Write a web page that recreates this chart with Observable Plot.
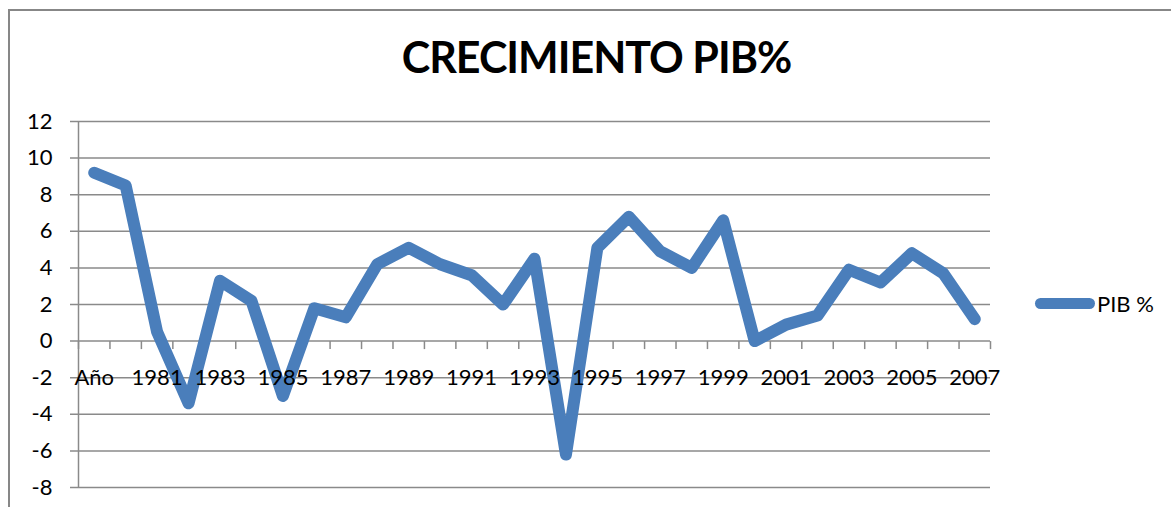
<!DOCTYPE html>
<html>
<head>
<meta charset="utf-8">
<script src="https://cdn.jsdelivr.net/npm/d3@7"></script>
<script src="https://cdn.jsdelivr.net/npm/@observablehq/plot@0.6"></script>
<style>
  body { margin: 0; background: #fff; font-family: Lato, sans-serif; }
  #wrap { position: relative; width: 1171px; height: 507px; overflow: hidden; background: #fff; }
  #border { position: absolute; left: 8px; top: 9px; width: 1300px; height: 700px;
            border-left: 2px solid #878787; border-top: 2px solid #878787; }
  #chart { position: absolute; left: 0; top: 0; }
  #title { position: absolute; left: 0; width: 1193px; top: 35px; text-align: center;
           font-family: Lato, sans-serif; font-weight: bold; font-size: 43px; line-height: 43px;
           letter-spacing: -1px; color: #000; }
  #legend { position: absolute; left: 1035px; top: 291px; display: flex; align-items: center; height: 24px; }
  #legend .sw { width: 60px; height: 11px; border-radius: 6px; background: #4a7ebb; }
  #legend .lb { font-size: 22px; color: #000; margin-left: 2px; }
</style>
</head>
<body>
<div id="wrap">
  <div id="border"></div>
  <div id="chart"></div>
  <div id="title">CRECIMIENTO PIB%</div>
  <div id="legend"><div class="sw"></div><div class="lb">PIB %</div></div>
</div>
<script>
const categories = ["Año","1980","1981","1982","1983","1984","1985","1986","1987","1988","1989",
  "1990","1991","1992","1993","1994","1995","1996","1997","1998","1999","2000",
  "2001","2002","2003","2004","2005","2006","2007"];
const pib = [9.2, 8.5, 0.5, -3.4, 3.3, 2.2, -3.0, 1.8, 1.3, 4.2, 5.1,
  4.2, 3.6, 2.0, 4.5, -6.2, 5.1, 6.8, 4.9, 4.0, 6.6,
  0.0, 0.9, 1.4, 3.9, 3.2, 4.8, 3.7, 1.2];
const yTicks = [-8, -6, -4, -2, 0, 2, 4, 6, 8, 10, 12];
const seriesName = "PIB %";

const data = categories.map((c, i) => ({i, c, v: pib[i]}));
const shownLabels = data.filter(d => d.i % 2 === 0);
const bounds = d3.range(categories.length + 1).map(k => k - 0.5);

const grid = "#8a8a8a";
const tickSymbol = { draw(ctx) { ctx.moveTo(0, 0); ctx.lineTo(0, 8); } };

const chart = Plot.plot({
  width: 1171,
  height: 507,
  marginLeft: 78,
  marginRight: 181,
  marginTop: 121,
  marginBottom: 20,
  x: { type: "linear", domain: [-0.5, categories.length - 0.5], axis: null },
  y: { domain: [-8, 12], axis: null },
  style: { fontFamily: "Lato, sans-serif", background: "transparent", overflow: "visible" },
  marks: [
    Plot.ruleY(yTicks, { y: d => d, stroke: grid, strokeWidth: 1.5, insetLeft: -8 }),
    Plot.ruleX([bounds[0]], { x: d => d, stroke: grid, strokeWidth: 1.5 }),
    Plot.dot(bounds, { x: d => d, y: () => 0, symbol: tickSymbol, fill: "none", stroke: grid, strokeWidth: 1.5 }),
    Plot.text(yTicks, { y: d => d, frameAnchor: "left", dx: -26, textAnchor: "end",
      text: d => String(d), fontSize: 22, fill: "#000" }),
    Plot.line(data, { x: "i", y: "v", stroke: "#4a7ebb", strokeWidth: 12,
      strokeLinejoin: "round", strokeLinecap: "round" }),
    Plot.text(shownLabels, { x: "i", y: () => 0, text: "c", dy: 37, fontSize: 22, fill: "#000" })
  ]
});
document.getElementById("chart").appendChild(chart);
document.querySelector("#legend .lb").textContent = seriesName;
</script>
</body>
</html>
